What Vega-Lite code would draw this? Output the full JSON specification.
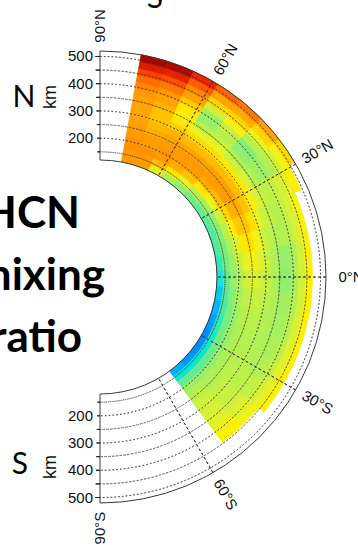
{
  "$schema": "https://vega.github.io/schema/vega-lite/v6.json",
  "width": 358,
  "height": 545,
  "padding": 0,
  "autosize": {"type": "none"},
  "background": "white",
  "config": {"view": {"stroke": null}},
  "layer": [
    {
      "data": {"values": [
        {"lat":76,"alt":132.5,"v":0.80},{"lat":76,"alt":157.5,"v":0.80},{"lat":76,"alt":182.5,"v":0.81},{"lat":76,"alt":207.5,"v":0.81},{"lat":76,"alt":232.5,"v":0.80},{"lat":76,"alt":257.5,"v":0.79},{"lat":76,"alt":282.5,"v":0.78},{"lat":76,"alt":307.5,"v":0.77},{"lat":76,"alt":332.5,"v":0.77},{"lat":76,"alt":357.5,"v":0.78},{"lat":76,"alt":382.5,"v":0.80},{"lat":76,"alt":407.5,"v":0.82},{"lat":76,"alt":432.5,"v":0.85},{"lat":76,"alt":457.5,"v":0.89},{"lat":76,"alt":482.5,"v":0.94},{"lat":76,"alt":507.5,"v":0.99},
        {"lat":69,"alt":132.5,"v":0.80},{"lat":69,"alt":157.5,"v":0.80},{"lat":69,"alt":182.5,"v":0.81},{"lat":69,"alt":207.5,"v":0.80},{"lat":69,"alt":232.5,"v":0.79},{"lat":69,"alt":257.5,"v":0.76},{"lat":69,"alt":282.5,"v":0.73},{"lat":69,"alt":307.5,"v":0.70},{"lat":69,"alt":332.5,"v":0.70},{"lat":69,"alt":357.5,"v":0.74},{"lat":69,"alt":382.5,"v":0.78},{"lat":69,"alt":407.5,"v":0.80},{"lat":69,"alt":432.5,"v":0.84},{"lat":69,"alt":457.5,"v":0.88},{"lat":69,"alt":482.5,"v":0.93},{"lat":69,"alt":507.5,"v":0.98},
        {"lat":62,"alt":132.5,"v":0.55},{"lat":62,"alt":157.5,"v":0.72},{"lat":62,"alt":182.5,"v":0.80},{"lat":62,"alt":207.5,"v":0.81},{"lat":62,"alt":232.5,"v":0.80},{"lat":62,"alt":257.5,"v":0.78},{"lat":62,"alt":282.5,"v":0.74},{"lat":62,"alt":307.5,"v":0.68},{"lat":62,"alt":332.5,"v":0.62},{"lat":62,"alt":357.5,"v":0.60},{"lat":62,"alt":382.5,"v":0.62},{"lat":62,"alt":407.5,"v":0.68},{"lat":62,"alt":432.5,"v":0.78},{"lat":62,"alt":457.5,"v":0.82},{"lat":62,"alt":482.5,"v":0.87},{"lat":62,"alt":507.5,"v":0.92},
        {"lat":55,"alt":132.5,"v":0.45},{"lat":55,"alt":157.5,"v":0.62},{"lat":55,"alt":182.5,"v":0.76},{"lat":55,"alt":207.5,"v":0.80},{"lat":55,"alt":232.5,"v":0.80},{"lat":55,"alt":257.5,"v":0.78},{"lat":55,"alt":282.5,"v":0.72},{"lat":55,"alt":307.5,"v":0.65},{"lat":55,"alt":332.5,"v":0.56},{"lat":55,"alt":357.5,"v":0.48},{"lat":55,"alt":382.5,"v":0.42},{"lat":55,"alt":407.5,"v":0.42},{"lat":55,"alt":432.5,"v":0.52},{"lat":55,"alt":457.5,"v":0.66},{"lat":55,"alt":482.5,"v":0.78},{"lat":55,"alt":507.5,"v":0.86},
        {"lat":48,"alt":132.5,"v":0.40},{"lat":48,"alt":157.5,"v":0.55},{"lat":48,"alt":182.5,"v":0.70},{"lat":48,"alt":207.5,"v":0.79},{"lat":48,"alt":232.5,"v":0.80},{"lat":48,"alt":257.5,"v":0.78},{"lat":48,"alt":282.5,"v":0.72},{"lat":48,"alt":307.5,"v":0.64},{"lat":48,"alt":332.5,"v":0.56},{"lat":48,"alt":357.5,"v":0.50},{"lat":48,"alt":382.5,"v":0.47},{"lat":48,"alt":407.5,"v":0.50},{"lat":48,"alt":432.5,"v":0.58},{"lat":48,"alt":457.5,"v":0.66},{"lat":48,"alt":482.5,"v":0.76},{"lat":48,"alt":507.5,"v":0.84},
        {"lat":41,"alt":132.5,"v":0.36},{"lat":41,"alt":157.5,"v":0.48},{"lat":41,"alt":182.5,"v":0.62},{"lat":41,"alt":207.5,"v":0.76},{"lat":41,"alt":232.5,"v":0.80},{"lat":41,"alt":257.5,"v":0.79},{"lat":41,"alt":282.5,"v":0.72},{"lat":41,"alt":307.5,"v":0.62},{"lat":41,"alt":332.5,"v":0.52},{"lat":41,"alt":357.5,"v":0.45},{"lat":41,"alt":382.5,"v":0.40},{"lat":41,"alt":407.5,"v":0.38},{"lat":41,"alt":432.5,"v":0.46},{"lat":41,"alt":457.5,"v":0.56},{"lat":41,"alt":482.5,"v":0.66},{"lat":41,"alt":507.5,"v":0.78},
        {"lat":34,"alt":132.5,"v":0.33},{"lat":34,"alt":157.5,"v":0.44},{"lat":34,"alt":182.5,"v":0.57},{"lat":34,"alt":207.5,"v":0.72},{"lat":34,"alt":232.5,"v":0.80},{"lat":34,"alt":257.5,"v":0.79},{"lat":34,"alt":282.5,"v":0.72},{"lat":34,"alt":307.5,"v":0.62},{"lat":34,"alt":332.5,"v":0.53},{"lat":34,"alt":357.5,"v":0.47},{"lat":34,"alt":382.5,"v":0.43},{"lat":34,"alt":407.5,"v":0.42},{"lat":34,"alt":432.5,"v":0.46},{"lat":34,"alt":457.5,"v":0.52},{"lat":34,"alt":482.5,"v":0.58},{"lat":34,"alt":507.5,"v":0.66},
        {"lat":27,"alt":132.5,"v":0.31},{"lat":27,"alt":157.5,"v":0.40},{"lat":27,"alt":182.5,"v":0.52},{"lat":27,"alt":207.5,"v":0.66},{"lat":27,"alt":232.5,"v":0.75},{"lat":27,"alt":257.5,"v":0.76},{"lat":27,"alt":282.5,"v":0.70},{"lat":27,"alt":307.5,"v":0.61},{"lat":27,"alt":332.5,"v":0.54},{"lat":27,"alt":357.5,"v":0.50},{"lat":27,"alt":382.5,"v":0.48},{"lat":27,"alt":407.5,"v":0.49},{"lat":27,"alt":432.5,"v":0.52},{"lat":27,"alt":457.5,"v":0.56},{"lat":27,"alt":482.5,"v":0.60},
        {"lat":20,"alt":132.5,"v":0.30},{"lat":20,"alt":157.5,"v":0.38},{"lat":20,"alt":182.5,"v":0.48},{"lat":20,"alt":207.5,"v":0.60},{"lat":20,"alt":232.5,"v":0.69},{"lat":20,"alt":257.5,"v":0.70},{"lat":20,"alt":282.5,"v":0.64},{"lat":20,"alt":307.5,"v":0.56},{"lat":20,"alt":332.5,"v":0.51},{"lat":20,"alt":357.5,"v":0.48},{"lat":20,"alt":382.5,"v":0.47},{"lat":20,"alt":407.5,"v":0.49},{"lat":20,"alt":432.5,"v":0.53},{"lat":20,"alt":457.5,"v":0.58},
        {"lat":13,"alt":132.5,"v":0.30},{"lat":13,"alt":157.5,"v":0.37},{"lat":13,"alt":182.5,"v":0.45},{"lat":13,"alt":207.5,"v":0.54},{"lat":13,"alt":232.5,"v":0.62},{"lat":13,"alt":257.5,"v":0.64},{"lat":13,"alt":282.5,"v":0.58},{"lat":13,"alt":307.5,"v":0.52},{"lat":13,"alt":332.5,"v":0.48},{"lat":13,"alt":357.5,"v":0.46},{"lat":13,"alt":382.5,"v":0.46},{"lat":13,"alt":407.5,"v":0.48},{"lat":13,"alt":432.5,"v":0.53},{"lat":13,"alt":457.5,"v":0.59},
        {"lat":6,"alt":132.5,"v":0.27},{"lat":6,"alt":157.5,"v":0.36},{"lat":6,"alt":182.5,"v":0.43},{"lat":6,"alt":207.5,"v":0.50},{"lat":6,"alt":232.5,"v":0.56},{"lat":6,"alt":257.5,"v":0.58},{"lat":6,"alt":282.5,"v":0.55},{"lat":6,"alt":307.5,"v":0.50},{"lat":6,"alt":332.5,"v":0.46},{"lat":6,"alt":357.5,"v":0.42},{"lat":6,"alt":382.5,"v":0.41},{"lat":6,"alt":407.5,"v":0.45},{"lat":6,"alt":432.5,"v":0.52},{"lat":6,"alt":457.5,"v":0.59},
        {"lat":-1,"alt":132.5,"v":0.20},{"lat":-1,"alt":157.5,"v":0.33},{"lat":-1,"alt":182.5,"v":0.41},{"lat":-1,"alt":207.5,"v":0.47},{"lat":-1,"alt":232.5,"v":0.52},{"lat":-1,"alt":257.5,"v":0.54},{"lat":-1,"alt":282.5,"v":0.52},{"lat":-1,"alt":307.5,"v":0.49},{"lat":-1,"alt":332.5,"v":0.46},{"lat":-1,"alt":357.5,"v":0.41},{"lat":-1,"alt":382.5,"v":0.40},{"lat":-1,"alt":407.5,"v":0.45},{"lat":-1,"alt":432.5,"v":0.52},{"lat":-1,"alt":457.5,"v":0.60},
        {"lat":-8,"alt":132.5,"v":0.14},{"lat":-8,"alt":157.5,"v":0.31},{"lat":-8,"alt":182.5,"v":0.39},{"lat":-8,"alt":207.5,"v":0.45},{"lat":-8,"alt":232.5,"v":0.49},{"lat":-8,"alt":257.5,"v":0.50},{"lat":-8,"alt":282.5,"v":0.50},{"lat":-8,"alt":307.5,"v":0.48},{"lat":-8,"alt":332.5,"v":0.46},{"lat":-8,"alt":357.5,"v":0.43},{"lat":-8,"alt":382.5,"v":0.43},{"lat":-8,"alt":407.5,"v":0.46},{"lat":-8,"alt":432.5,"v":0.52},{"lat":-8,"alt":457.5,"v":0.60},
        {"lat":-15,"alt":132.5,"v":0.10},{"lat":-15,"alt":157.5,"v":0.29},{"lat":-15,"alt":182.5,"v":0.37},{"lat":-15,"alt":207.5,"v":0.43},{"lat":-15,"alt":232.5,"v":0.47},{"lat":-15,"alt":257.5,"v":0.48},{"lat":-15,"alt":282.5,"v":0.48},{"lat":-15,"alt":307.5,"v":0.47},{"lat":-15,"alt":332.5,"v":0.46},{"lat":-15,"alt":357.5,"v":0.44},{"lat":-15,"alt":382.5,"v":0.44},{"lat":-15,"alt":407.5,"v":0.47},{"lat":-15,"alt":432.5,"v":0.53},{"lat":-15,"alt":457.5,"v":0.59},
        {"lat":-22,"alt":132.5,"v":0.07},{"lat":-22,"alt":157.5,"v":0.27},{"lat":-22,"alt":182.5,"v":0.36},{"lat":-22,"alt":207.5,"v":0.42},{"lat":-22,"alt":232.5,"v":0.45},{"lat":-22,"alt":257.5,"v":0.47},{"lat":-22,"alt":282.5,"v":0.47},{"lat":-22,"alt":307.5,"v":0.46},{"lat":-22,"alt":332.5,"v":0.45},{"lat":-22,"alt":357.5,"v":0.45},{"lat":-22,"alt":382.5,"v":0.45},{"lat":-22,"alt":407.5,"v":0.48},{"lat":-22,"alt":432.5,"v":0.54},{"lat":-22,"alt":457.5,"v":0.59},
        {"lat":-29,"alt":132.5,"v":0.05},{"lat":-29,"alt":157.5,"v":0.25},{"lat":-29,"alt":182.5,"v":0.35},{"lat":-29,"alt":207.5,"v":0.41},{"lat":-29,"alt":232.5,"v":0.45},{"lat":-29,"alt":257.5,"v":0.47},{"lat":-29,"alt":282.5,"v":0.47},{"lat":-29,"alt":307.5,"v":0.47},{"lat":-29,"alt":332.5,"v":0.46},{"lat":-29,"alt":357.5,"v":0.46},{"lat":-29,"alt":382.5,"v":0.47},{"lat":-29,"alt":407.5,"v":0.50},{"lat":-29,"alt":432.5,"v":0.55},{"lat":-29,"alt":457.5,"v":0.59},
        {"lat":-36,"alt":132.5,"v":0.05},{"lat":-36,"alt":157.5,"v":0.23},{"lat":-36,"alt":182.5,"v":0.34},{"lat":-36,"alt":207.5,"v":0.41},{"lat":-36,"alt":232.5,"v":0.45},{"lat":-36,"alt":257.5,"v":0.47},{"lat":-36,"alt":282.5,"v":0.48},{"lat":-36,"alt":307.5,"v":0.48},{"lat":-36,"alt":332.5,"v":0.48},{"lat":-36,"alt":357.5,"v":0.48},{"lat":-36,"alt":382.5,"v":0.49},{"lat":-36,"alt":407.5,"v":0.52},{"lat":-36,"alt":432.5,"v":0.56},{"lat":-36,"alt":457.5,"v":0.60},
        {"lat":-43,"alt":132.5,"v":0.06},{"lat":-43,"alt":157.5,"v":0.22},{"lat":-43,"alt":182.5,"v":0.33},{"lat":-43,"alt":207.5,"v":0.41},{"lat":-43,"alt":232.5,"v":0.45},{"lat":-43,"alt":257.5,"v":0.47},{"lat":-43,"alt":282.5,"v":0.49},{"lat":-43,"alt":307.5,"v":0.50},{"lat":-43,"alt":332.5,"v":0.50},{"lat":-43,"alt":357.5,"v":0.51},{"lat":-43,"alt":382.5,"v":0.53},{"lat":-43,"alt":407.5,"v":0.55},{"lat":-43,"alt":432.5,"v":0.58},
        {"lat":-50,"alt":132.5,"v":0.09},{"lat":-50,"alt":157.5,"v":0.23},{"lat":-50,"alt":182.5,"v":0.34},{"lat":-50,"alt":207.5,"v":0.42},{"lat":-50,"alt":232.5,"v":0.46},{"lat":-50,"alt":257.5,"v":0.49},{"lat":-50,"alt":282.5,"v":0.51},{"lat":-50,"alt":307.5,"v":0.52},{"lat":-50,"alt":332.5,"v":0.53},{"lat":-50,"alt":357.5,"v":0.54},{"lat":-50,"alt":382.5,"v":0.56},{"lat":-50,"alt":407.5,"v":0.58},{"lat":-50,"alt":432.5,"v":0.60}
      ]},
      "transform": [
        {"calculate": "datum.lat - 3.5", "as": "lat0"},
        {"calculate": "datum.lat + 3.5", "as": "lat1"},
        {"calculate": "datum.alt - 12.5", "as": "alt0"},
        {"calculate": "datum.alt + 12.5", "as": "alt1"}
      ],
      "mark": {"type": "arc", "strokeWidth": 0.8},
      "encoding": {
        "x": {"datum": 0, "type": "quantitative", "scale": {"domain": [-100, 258], "zero": false, "nice": false}, "axis": null},
        "y": {"datum": 0, "type": "quantitative", "scale": {"domain": [-268, 277], "zero": false, "nice": false}, "axis": null},
        "theta": {"field": "lat0", "type": "quantitative", "stack": null, "scale": {"type": "linear", "domain": [90, -90], "range": [0, 3.14159265], "zero": false, "nice": false}},
        "theta2": {"field": "lat1"},
        "radius": {"field": "alt0", "type": "quantitative", "scale": {"type": "linear", "domain": [120, 520], "range": [117, 226], "zero": false, "nice": false}},
        "radius2": {"field": "alt1"},
        "color": {"field": "v", "type": "quantitative", "legend": null, "scale": {"type": "linear", "domain": [0, 0.1, 0.2, 0.3, 0.4, 0.5, 0.6, 0.7, 0.8, 0.9, 1], "range": ["#0060ff", "#00b4ff", "#20e0e0", "#50eaa0", "#90ee70", "#c8f040", "#fff000", "#ffc400", "#ff9a00", "#ff3000", "#a00000"]}},
        "stroke": {"field": "v", "type": "quantitative", "legend": null, "scale": {"type": "linear", "domain": [0, 0.1, 0.2, 0.3, 0.4, 0.5, 0.6, 0.7, 0.8, 0.9, 1], "range": ["#0060ff", "#00b4ff", "#20e0e0", "#50eaa0", "#90ee70", "#c8f040", "#fff000", "#ffc400", "#ff9a00", "#ff3000", "#a00000"]}}
      }
    },
    {
      "data": {"values": [{"alt": 150}, {"alt": 200}, {"alt": 250}, {"alt": 300}, {"alt": 350}, {"alt": 400}, {"alt": 450}, {"alt": 500}]},
      "mark": {"type": "arc", "filled": false, "stroke": "#333", "strokeWidth": 0.9, "strokeDash": [1.2, 2.6]},
      "encoding": {
        "x": {"datum": 0, "type": "quantitative", "scale": {"domain": [-100, 258], "zero": false, "nice": false}, "axis": null},
        "y": {"datum": 0, "type": "quantitative", "scale": {"domain": [-268, 277], "zero": false, "nice": false}, "axis": null},
        "theta": {"datum": 90, "type": "quantitative"},
        "theta2": {"datum": -90},
        "radius": {"field": "alt", "type": "quantitative"},
        "radius2": {"field": "alt"}
      }
    },
    {
      "data": {"values": [{"lat": 60}, {"lat": 30}, {"lat": 0}, {"lat": -30}, {"lat": -60}]},
      "mark": {"type": "arc", "filled": false, "stroke": "#333", "strokeWidth": 0.9, "strokeDash": [2.5, 2.5]},
      "encoding": {
        "x": {"datum": 0, "type": "quantitative", "scale": {"domain": [-100, 258], "zero": false, "nice": false}, "axis": null},
        "y": {"datum": 0, "type": "quantitative", "scale": {"domain": [-268, 277], "zero": false, "nice": false}, "axis": null},
        "theta": {"field": "lat", "type": "quantitative", "stack": null},
        "theta2": {"field": "lat"},
        "radius": {"datum": 120, "type": "quantitative"},
        "radius2": {"datum": 520}
      }
    },
    {
      "data": {"values": [{}]},
      "mark": {"type": "arc", "filled": false, "stroke": "#3a3a3a", "strokeWidth": 1},
      "encoding": {
        "x": {"datum": 0, "type": "quantitative", "scale": {"domain": [-100, 258], "zero": false, "nice": false}, "axis": null},
        "y": {"datum": 0, "type": "quantitative", "scale": {"domain": [-268, 277], "zero": false, "nice": false}, "axis": null},
        "theta": {"datum": 90, "type": "quantitative"},
        "theta2": {"datum": -90},
        "radius": {"datum": 120, "type": "quantitative"},
        "radius2": {"datum": 520}
      }
    },
    {
      "data": {"values": [{"alt": 150}, {"alt": 200}, {"alt": 250}, {"alt": 300}, {"alt": 350}, {"alt": 400}, {"alt": 450}, {"alt": 500}]},
      "mark": {"type": "arc", "filled": false, "stroke": "#222", "strokeWidth": 1},
      "encoding": {
        "x": {"datum": 0, "type": "quantitative", "scale": {"domain": [-100, 258], "zero": false, "nice": false}, "axis": null},
        "y": {"datum": 0, "type": "quantitative", "scale": {"domain": [-268, 277], "zero": false, "nice": false}, "axis": null},
        "theta": {"datum": 90, "type": "quantitative"},
        "theta2": {"datum": 91.2},
        "radius": {"field": "alt", "type": "quantitative"},
        "radius2": {"field": "alt"}
      }
    },
    {
      "data": {"values": [{"alt": 150}, {"alt": 200}, {"alt": 250}, {"alt": 300}, {"alt": 350}, {"alt": 400}, {"alt": 450}, {"alt": 500}]},
      "mark": {"type": "arc", "filled": false, "stroke": "#222", "strokeWidth": 1},
      "encoding": {
        "x": {"datum": 0, "type": "quantitative", "scale": {"domain": [-100, 258], "zero": false, "nice": false}, "axis": null},
        "y": {"datum": 0, "type": "quantitative", "scale": {"domain": [-268, 277], "zero": false, "nice": false}, "axis": null},
        "theta": {"datum": -90, "type": "quantitative"},
        "theta2": {"datum": -91.2},
        "radius": {"field": "alt", "type": "quantitative"},
        "radius2": {"field": "alt"}
      }
    },
    {
      "data": {"values": [
        {"lat": 90, "alt": 200}, {"lat": 90, "alt": 300}, {"lat": 90, "alt": 400}, {"lat": 90, "alt": 500},
        {"lat": -90, "alt": 200}, {"lat": -90, "alt": 300}, {"lat": -90, "alt": 400}, {"lat": -90, "alt": 500}
      ]},
      "mark": {"type": "text", "align": "right", "baseline": "middle", "dx": -7, "font": "Liberation Sans", "fontSize": 15, "fill": "#111"},
      "encoding": {
        "x": {"datum": 0, "type": "quantitative", "scale": {"domain": [-100, 258], "zero": false, "nice": false}, "axis": null},
        "y": {"datum": 0, "type": "quantitative", "scale": {"domain": [-268, 277], "zero": false, "nice": false}, "axis": null},
        "theta": {"field": "lat", "type": "quantitative", "stack": null},
        "radius": {"field": "alt", "type": "quantitative"},
        "text": {"field": "alt", "type": "quantitative"}
      }
    },
    {
      "data": {"values": [{"lat": 60, "label": "60°N"}]},
      "mark": {"type": "text", "align": "center", "baseline": "middle", "angle": 300, "font": "Liberation Sans", "fontSize": 15, "fill": "#111"},
      "encoding": {
        "x": {"datum": 0, "type": "quantitative", "scale": {"domain": [-100, 258], "zero": false, "nice": false}, "axis": null},
        "y": {"datum": 0, "type": "quantitative", "scale": {"domain": [-268, 277], "zero": false, "nice": false}, "axis": null},
        "theta": {"field": "lat", "type": "quantitative", "stack": null},
        "radius": {"datum": 612, "type": "quantitative"},
        "text": {"field": "label"}
      }
    },
    {
      "data": {"values": [{"lat": 30, "label": "30°N"}]},
      "mark": {"type": "text", "align": "center", "baseline": "middle", "angle": 330, "font": "Liberation Sans", "fontSize": 15, "fill": "#111"},
      "encoding": {
        "x": {"datum": 0, "type": "quantitative", "scale": {"domain": [-100, 258], "zero": false, "nice": false}, "axis": null},
        "y": {"datum": 0, "type": "quantitative", "scale": {"domain": [-268, 277], "zero": false, "nice": false}, "axis": null},
        "theta": {"field": "lat", "type": "quantitative", "stack": null},
        "radius": {"datum": 612, "type": "quantitative"},
        "text": {"field": "label"}
      }
    },
    {
      "data": {"values": [{"lat": 0, "label": "0°N"}]},
      "mark": {"type": "text", "align": "center", "baseline": "middle", "angle": 0, "font": "Liberation Sans", "fontSize": 15, "fill": "#111"},
      "encoding": {
        "x": {"datum": 0, "type": "quantitative", "scale": {"domain": [-100, 258], "zero": false, "nice": false}, "axis": null},
        "y": {"datum": 0, "type": "quantitative", "scale": {"domain": [-268, 277], "zero": false, "nice": false}, "axis": null},
        "theta": {"field": "lat", "type": "quantitative", "stack": null},
        "radius": {"datum": 612, "type": "quantitative"},
        "text": {"field": "label"}
      }
    },
    {
      "data": {"values": [{"lat": -30, "label": "30°S"}]},
      "mark": {"type": "text", "align": "center", "baseline": "middle", "angle": 30, "font": "Liberation Sans", "fontSize": 15, "fill": "#111"},
      "encoding": {
        "x": {"datum": 0, "type": "quantitative", "scale": {"domain": [-100, 258], "zero": false, "nice": false}, "axis": null},
        "y": {"datum": 0, "type": "quantitative", "scale": {"domain": [-268, 277], "zero": false, "nice": false}, "axis": null},
        "theta": {"field": "lat", "type": "quantitative", "stack": null},
        "radius": {"datum": 612, "type": "quantitative"},
        "text": {"field": "label"}
      }
    },
    {
      "data": {"values": [{"lat": -60, "label": "60°S"}]},
      "mark": {"type": "text", "align": "center", "baseline": "middle", "angle": 60, "font": "Liberation Sans", "fontSize": 15, "fill": "#111"},
      "encoding": {
        "x": {"datum": 0, "type": "quantitative", "scale": {"domain": [-100, 258], "zero": false, "nice": false}, "axis": null},
        "y": {"datum": 0, "type": "quantitative", "scale": {"domain": [-268, 277], "zero": false, "nice": false}, "axis": null},
        "theta": {"field": "lat", "type": "quantitative", "stack": null},
        "radius": {"datum": 612, "type": "quantitative"},
        "text": {"field": "label"}
      }
    },
    {
      "data": {"values": [{"lat": 90, "label": "90°N"}, {"lat": -90, "label": "90°S"}]},
      "mark": {"type": "text", "align": "center", "baseline": "middle", "angle": 270, "font": "Liberation Sans", "fontSize": 15, "fill": "#111"},
      "encoding": {
        "x": {"datum": 0, "type": "quantitative", "scale": {"domain": [-100, 258], "zero": false, "nice": false}, "axis": null},
        "y": {"datum": 0, "type": "quantitative", "scale": {"domain": [-268, 277], "zero": false, "nice": false}, "axis": null},
        "theta": {"field": "lat", "type": "quantitative", "stack": null},
        "radius": {"datum": 612, "type": "quantitative"},
        "text": {"field": "label"}
      }
    },
    {
      "data": {"values": [{}]},
      "mark": {"type": "text", "text": "HCN", "font": "Lato", "fontWeight": "bold", "fontSize": 44, "align": "right", "baseline": "alphabetic", "fill": "#000"},
      "encoding": {
        "x": {"datum": -20, "type": "quantitative", "scale": {"domain": [-100, 258], "zero": false, "nice": false}, "axis": null},
        "y": {"datum": 49, "type": "quantitative", "scale": {"domain": [-268, 277], "zero": false, "nice": false}, "axis": null}
      }
    },
    {
      "data": {"values": [{}]},
      "mark": {"type": "text", "text": "mixing", "font": "Lato", "fontWeight": "bold", "fontSize": 44, "align": "right", "baseline": "alphabetic", "fill": "#000"},
      "encoding": {
        "x": {"datum": 5, "type": "quantitative", "scale": {"domain": [-100, 258], "zero": false, "nice": false}, "axis": null},
        "y": {"datum": -13, "type": "quantitative", "scale": {"domain": [-268, 277], "zero": false, "nice": false}, "axis": null}
      }
    },
    {
      "data": {"values": [{}]},
      "mark": {"type": "text", "text": "ratio", "font": "Lato", "fontWeight": "bold", "fontSize": 44, "align": "right", "baseline": "alphabetic", "fill": "#000"},
      "encoding": {
        "x": {"datum": -18, "type": "quantitative", "scale": {"domain": [-100, 258], "zero": false, "nice": false}, "axis": null},
        "y": {"datum": -75, "type": "quantitative", "scale": {"domain": [-268, 277], "zero": false, "nice": false}, "axis": null}
      }
    },
    {
      "data": {"values": [{}]},
      "mark": {"type": "text", "text": "N", "font": "Lato", "fontSize": 30, "align": "center", "baseline": "alphabetic", "fill": "#000"},
      "encoding": {
        "x": {"datum": -76, "type": "quantitative", "scale": {"domain": [-100, 258], "zero": false, "nice": false}, "axis": null},
        "y": {"datum": 170, "type": "quantitative", "scale": {"domain": [-268, 277], "zero": false, "nice": false}, "axis": null}
      }
    },
    {
      "data": {"values": [{}]},
      "mark": {"type": "text", "text": "S", "font": "Lato", "fontSize": 30, "align": "center", "baseline": "alphabetic", "fill": "#000"},
      "encoding": {
        "x": {"datum": -80, "type": "quantitative", "scale": {"domain": [-100, 258], "zero": false, "nice": false}, "axis": null},
        "y": {"datum": -197, "type": "quantitative", "scale": {"domain": [-268, 277], "zero": false, "nice": false}, "axis": null}
      }
    },
    {
      "data": {"values": [{}]},
      "mark": {"type": "text", "text": "S", "font": "Lato", "fontSize": 30, "align": "center", "baseline": "alphabetic", "fill": "#000"},
      "encoding": {
        "x": {"datum": 55, "type": "quantitative", "scale": {"domain": [-100, 258], "zero": false, "nice": false}, "axis": null},
        "y": {"datum": 269, "type": "quantitative", "scale": {"domain": [-268, 277], "zero": false, "nice": false}, "axis": null}
      }
    },
    {
      "data": {"values": [{}]},
      "mark": {"type": "text", "text": "km", "font": "Liberation Sans", "fontSize": 18, "angle": 270, "align": "center", "baseline": "middle", "fill": "#111"},
      "encoding": {
        "x": {"datum": -49, "type": "quantitative", "scale": {"domain": [-100, 258], "zero": false, "nice": false}, "axis": null},
        "y": {"datum": 180, "type": "quantitative", "scale": {"domain": [-268, 277], "zero": false, "nice": false}, "axis": null}
      }
    },
    {
      "data": {"values": [{}]},
      "mark": {"type": "text", "text": "km", "font": "Liberation Sans", "fontSize": 18, "angle": 270, "align": "center", "baseline": "middle", "fill": "#111"},
      "encoding": {
        "x": {"datum": -49, "type": "quantitative", "scale": {"domain": [-100, 258], "zero": false, "nice": false}, "axis": null},
        "y": {"datum": -190, "type": "quantitative", "scale": {"domain": [-268, 277], "zero": false, "nice": false}, "axis": null}
      }
    }
  ]
}
